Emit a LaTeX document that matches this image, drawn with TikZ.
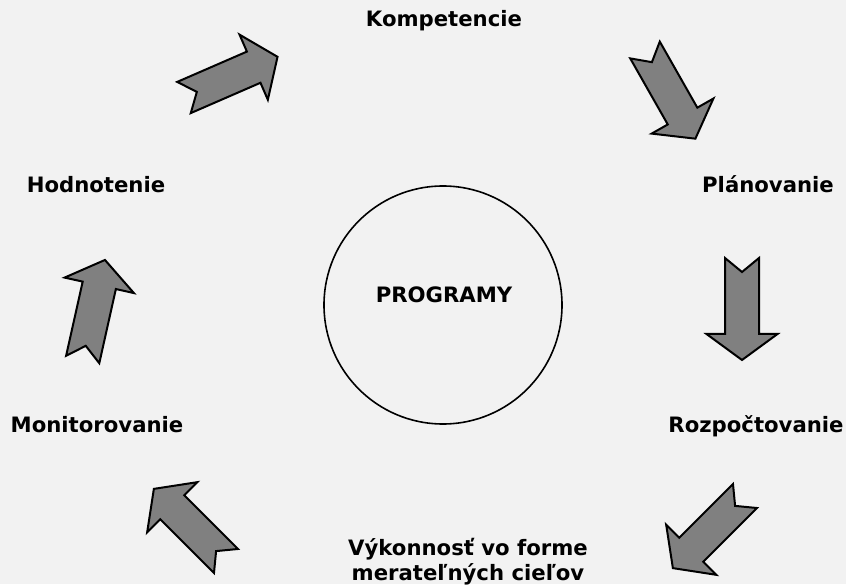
\documentclass[tikz,border=0pt]{standalone}
\usepackage{fontspec}
\setmainfont{DejaVu Sans}
\usepackage{tikz}
\usepackage{xcolor}
\definecolor{pagegray}{HTML}{F2F2F2}
\definecolor{arrowgray}{HTML}{808080}
\tikzset{
    step-label/.style = {font=\fontsize{21.2}{25}\selectfont\bfseries, inner sep=0pt, anchor=base, align=center},
    hub-circle/.style = {draw=black, line width=1.6pt, circle, minimum size=238pt, inner sep=0pt},
    block-arrow/.pic = {
        \draw[fill=arrowgray, draw=black, line width=2pt, line join=miter]
            (0,17) -- (14,0) -- (0,-17) -- (76,-17) -- (76,-35.5) -- (102,0)
            -- (76,35.5) -- (76,17) -- cycle;
    },
}

\begin{document}
\begin{tikzpicture}[x=1pt, y=1pt]
\fill[pagegray] (0,0) rectangle (846,584);
\useasboundingbox (0,0) rectangle (846,584);

\node [hub-circle] (hub) at (443,279) {};
\node [step-label] (programy) at (444,281) {PROGRAMY};

\node [step-label] (kompetencie) at (444,557) {Kompetencie};
\node [step-label] (planovanie) at (768,391) {Plánovanie};
\node [step-label] (rozpoctovanie) at (756,151) {Rozpočtovanie};
\node [step-label] (vykonnost) at (468,4) {Výkonnosť vo forme\\merateľných cieľov};
\node [step-label] (monitorovanie) at (97,151) {Monitorovanie};
\node [step-label] (hodnotenie) at (96,391) {Hodnotenie};

\pic [rotate=23.5] at (184,486.5) {block-arrow};
\pic [rotate=-60.4] at (645,534) {block-arrow};
\pic [rotate=-90] at (742,326) {block-arrow};
\pic [rotate=-135] at (745,88) {block-arrow};
\pic [rotate=135] at (226,23) {block-arrow};
\pic [rotate=77.4] at (82.7,224.5) {block-arrow};
\end{tikzpicture}
\end{document}
